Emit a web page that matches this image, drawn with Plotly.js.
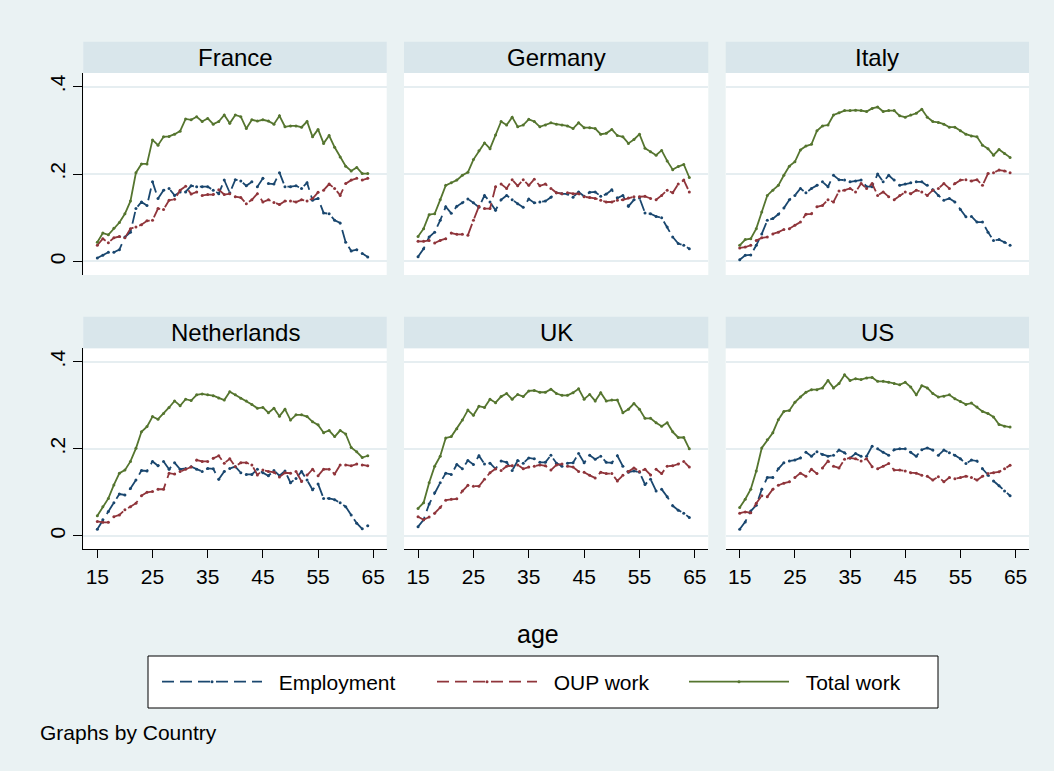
<!DOCTYPE html>
<html>
<head>
<meta charset="utf-8">
<script src="https://cdn.plot.ly/plotly-3.0.1.min.js"></script>
<style>
  html, body { margin: 0; padding: 0; background: #EAF2F3; }
  #chart { width: 1054px; height: 771px; }
</style>
</head>
<body>
<div id="chart"></div>
<script>
// Share of time spent working by age, by country
const ages = [15,16,17,18,19,20,21,22,23,24,25,26,27,28,29,30,31,32,33,34,35,36,37,38,39,
              40,41,42,43,44,45,46,47,48,49,50,51,52,53,54,55,56,57,58,59,60,61,62,63,64];

const countries = ["France", "Germany", "Italy", "Netherlands", "UK", "US"];
const seriesNames = ["Employment", "OUP work", "Total work"];
const yTickVals = [0, 0.2, 0.4];
const yTickText = ["0", ".2", ".4"];
const xTickVals = [15, 25, 35, 45, 55, 65];

const franceEmployment = [0.008,0.014,0.021,0.021,0.027,0.056,0.067,0.121,0.136,0.128,
  0.182,0.144,0.163,0.167,0.151,0.159,0.159,0.173,0.171,0.171,
  0.171,0.163,0.155,0.186,0.157,0.187,0.184,0.173,0.182,0.171,
  0.190,0.178,0.177,0.203,0.171,0.171,0.173,0.167,0.180,0.140,
  0.144,0.111,0.109,0.094,0.088,0.044,0.024,0.027,0.018,0.010];
const franceOup = [0.037,0.052,0.043,0.054,0.057,0.054,0.075,0.079,0.084,0.093,
  0.094,0.121,0.119,0.140,0.142,0.163,0.172,0.154,0.159,0.151,
  0.153,0.153,0.164,0.153,0.155,0.148,0.146,0.132,0.141,0.155,
  0.136,0.141,0.135,0.130,0.138,0.138,0.136,0.141,0.138,0.144,
  0.158,0.163,0.177,0.167,0.151,0.178,0.186,0.190,0.186,0.190];
const franceTotal = [0.044,0.065,0.061,0.076,0.089,0.109,0.138,0.203,0.223,0.223,
  0.278,0.266,0.285,0.286,0.291,0.298,0.326,0.324,0.331,0.320,
  0.327,0.314,0.320,0.335,0.316,0.335,0.331,0.304,0.324,0.321,
  0.324,0.321,0.314,0.333,0.308,0.310,0.310,0.307,0.320,0.285,
  0.302,0.270,0.288,0.261,0.239,0.218,0.207,0.215,0.201,0.201];

const germanyEmployment = [0.011,0.029,0.056,0.067,0.094,0.125,0.110,0.126,0.134,0.143,
  0.134,0.124,0.151,0.136,0.117,0.141,0.151,0.141,0.132,0.124,
  0.143,0.134,0.136,0.138,0.147,0.157,0.155,0.154,0.147,0.159,
  0.149,0.158,0.159,0.149,0.154,0.164,0.145,0.151,0.126,0.141,
  0.145,0.111,0.109,0.103,0.100,0.079,0.056,0.041,0.037,0.029];
const germanyOup = [0.046,0.046,0.048,0.042,0.048,0.052,0.065,0.062,0.062,0.060,
  0.094,0.126,0.121,0.121,0.171,0.177,0.167,0.187,0.173,0.187,
  0.174,0.188,0.173,0.177,0.167,0.157,0.155,0.157,0.155,0.155,
  0.148,0.146,0.144,0.140,0.136,0.136,0.140,0.141,0.145,0.148,
  0.148,0.149,0.144,0.141,0.151,0.163,0.157,0.177,0.186,0.159];
const germanyTotal = [0.057,0.075,0.107,0.109,0.141,0.174,0.180,0.186,0.197,0.204,
  0.233,0.253,0.271,0.258,0.289,0.320,0.312,0.330,0.308,0.312,
  0.325,0.320,0.308,0.312,0.317,0.314,0.312,0.310,0.304,0.317,
  0.306,0.306,0.304,0.291,0.293,0.302,0.288,0.285,0.270,0.279,
  0.291,0.259,0.251,0.243,0.254,0.230,0.210,0.217,0.222,0.192];

const italyEmployment = [0.004,0.014,0.015,0.037,0.063,0.094,0.098,0.108,0.122,0.141,
  0.151,0.167,0.157,0.167,0.174,0.182,0.171,0.197,0.187,0.186,
  0.182,0.184,0.186,0.171,0.171,0.200,0.182,0.197,0.186,0.174,
  0.177,0.180,0.182,0.182,0.174,0.164,0.151,0.140,0.144,0.136,
  0.119,0.102,0.103,0.090,0.090,0.067,0.048,0.050,0.044,0.037];
const italyOup = [0.031,0.033,0.037,0.048,0.054,0.056,0.063,0.067,0.073,0.075,
  0.083,0.090,0.108,0.109,0.125,0.128,0.141,0.136,0.161,0.163,
  0.167,0.159,0.178,0.167,0.178,0.151,0.159,0.148,0.141,0.151,
  0.159,0.155,0.163,0.159,0.151,0.163,0.167,0.178,0.167,0.178,
  0.186,0.187,0.184,0.187,0.174,0.201,0.203,0.209,0.207,0.203];
const italyTotal = [0.037,0.050,0.052,0.075,0.113,0.151,0.163,0.174,0.197,0.218,
  0.228,0.255,0.264,0.268,0.299,0.310,0.312,0.335,0.340,0.345,
  0.345,0.346,0.345,0.343,0.350,0.353,0.343,0.345,0.345,0.333,
  0.330,0.335,0.339,0.348,0.330,0.320,0.318,0.314,0.307,0.307,
  0.299,0.291,0.287,0.285,0.266,0.258,0.243,0.256,0.247,0.238];

const netherlandsEmployment = [0.015,0.037,0.056,0.076,0.096,0.094,0.109,0.128,0.150,0.149,
  0.171,0.161,0.171,0.153,0.168,0.153,0.155,0.159,0.153,0.148,
  0.155,0.154,0.130,0.148,0.155,0.159,0.145,0.141,0.141,0.153,
  0.145,0.138,0.150,0.138,0.149,0.122,0.132,0.148,0.128,0.106,
  0.119,0.086,0.086,0.083,0.076,0.067,0.048,0.029,0.016,0.023];
const netherlandsOup = [0.033,0.031,0.031,0.044,0.048,0.060,0.067,0.075,0.092,0.100,
  0.102,0.107,0.107,0.144,0.142,0.148,0.153,0.158,0.174,0.171,
  0.171,0.178,0.184,0.167,0.177,0.159,0.168,0.168,0.163,0.140,
  0.151,0.148,0.146,0.135,0.145,0.144,0.148,0.125,0.140,0.153,
  0.138,0.153,0.153,0.142,0.163,0.163,0.161,0.165,0.163,0.161];
const netherlandsTotal = [0.046,0.067,0.086,0.117,0.144,0.151,0.171,0.201,0.239,0.251,
  0.274,0.268,0.281,0.295,0.310,0.299,0.314,0.311,0.324,0.326,
  0.324,0.322,0.317,0.312,0.331,0.324,0.316,0.310,0.302,0.293,
  0.295,0.283,0.293,0.275,0.291,0.266,0.278,0.278,0.274,0.262,
  0.255,0.237,0.242,0.228,0.242,0.234,0.203,0.193,0.180,0.184];

const ukEmployment = [0.021,0.037,0.073,0.099,0.122,0.144,0.141,0.164,0.154,0.173,
  0.164,0.184,0.165,0.167,0.154,0.172,0.169,0.150,0.173,0.167,
  0.179,0.177,0.169,0.169,0.185,0.167,0.160,0.167,0.168,0.189,
  0.168,0.185,0.176,0.183,0.169,0.168,0.184,0.160,0.146,0.149,
  0.146,0.118,0.130,0.103,0.107,0.090,0.069,0.059,0.052,0.042];
const ukOup = [0.044,0.037,0.043,0.052,0.065,0.082,0.084,0.085,0.103,0.116,
  0.114,0.114,0.130,0.145,0.154,0.150,0.160,0.161,0.163,0.154,
  0.158,0.160,0.163,0.161,0.151,0.163,0.165,0.160,0.158,0.148,
  0.146,0.139,0.133,0.146,0.143,0.143,0.126,0.139,0.148,0.156,
  0.148,0.153,0.140,0.153,0.143,0.160,0.161,0.165,0.171,0.158];
const ukTotal = [0.063,0.076,0.122,0.160,0.183,0.225,0.228,0.246,0.266,0.289,
  0.277,0.298,0.295,0.314,0.306,0.320,0.327,0.314,0.325,0.320,
  0.333,0.334,0.330,0.330,0.337,0.327,0.323,0.323,0.329,0.338,
  0.314,0.325,0.310,0.329,0.310,0.312,0.312,0.283,0.291,0.304,
  0.291,0.270,0.270,0.260,0.252,0.260,0.239,0.226,0.226,0.200];

const usEmployment = [0.015,0.032,0.057,0.070,0.107,0.134,0.134,0.154,0.168,0.172,
  0.174,0.179,0.192,0.183,0.193,0.187,0.183,0.185,0.197,0.191,
  0.179,0.189,0.183,0.183,0.206,0.200,0.192,0.185,0.198,0.200,
  0.200,0.192,0.183,0.198,0.202,0.197,0.185,0.197,0.191,0.185,
  0.177,0.166,0.174,0.172,0.154,0.139,0.126,0.115,0.103,0.092];
const usOup = [0.052,0.055,0.053,0.075,0.092,0.090,0.107,0.116,0.121,0.124,
  0.134,0.144,0.137,0.153,0.143,0.156,0.172,0.160,0.156,0.176,
  0.179,0.177,0.172,0.177,0.159,0.154,0.160,0.166,0.151,0.151,
  0.149,0.145,0.144,0.139,0.137,0.128,0.136,0.124,0.134,0.131,
  0.134,0.137,0.134,0.128,0.137,0.143,0.145,0.147,0.154,0.162];
const usTotal = [0.065,0.084,0.107,0.149,0.202,0.221,0.237,0.267,0.286,0.288,
  0.307,0.319,0.330,0.336,0.336,0.340,0.357,0.340,0.350,0.370,
  0.357,0.361,0.359,0.363,0.364,0.355,0.355,0.353,0.350,0.347,
  0.353,0.342,0.324,0.345,0.340,0.327,0.319,0.321,0.324,0.315,
  0.309,0.302,0.305,0.296,0.286,0.281,0.273,0.256,0.252,0.250];

const panelSeries = [
  [franceEmployment, franceOup, franceTotal],
  [germanyEmployment, germanyOup, germanyTotal],
  [italyEmployment, italyOup, italyTotal],
  [netherlandsEmployment, netherlandsOup, netherlandsTotal],
  [ukEmployment, ukOup, ukTotal],
  [usEmployment, usOup, usTotal]
];

// ---- styling and geometry ----
const W = 1054, H = 771;
const FONT = "Arial, 'Liberation Sans', Helvetica, sans-serif";
const BG = "#EAF2F3";
const STRIP = "#D9E6EB";
const GRID = "#E6EEF1";
const lineStyles = [
  { color: "#1a476f", dash: "12px,6px" },
  { color: "#90353b", dash: "12px,6px" },
  { color: "#55752f", dash: "solid" }
];
// column spans (px) and row spans (px) of the white plot regions
const colPx = [[83.3, 386.7], [404, 708.3], [725.7, 1029]];
const rowPx = [[73, 275], [348.3, 549.3]];
const stripPx = [[41.7, 73], [316.7, 348.3]];
const px2x = v => v / W;
const px2y = v => (H - v) / H;

const traces = [];
const layout = {
  width: W, height: H,
  margin: { l: 0, r: 0, t: 0, b: 0 },
  paper_bgcolor: BG,
  plot_bgcolor: "#ffffff",
  font: { family: FONT, color: "#000000", size: 20 },
  shapes: [],
  annotations: [],
  hovermode: false
};

countries.forEach((country, i) => {
  const col = i % 3, row = Math.floor(i / 3);
  const n = i + 1;
  const xa = "x" + (n === 1 ? "" : n), ya = "y" + (n === 1 ? "" : n);
  const xKey = "xaxis" + (n === 1 ? "" : n), yKey = "yaxis" + (n === 1 ? "" : n);

  layout[xKey] = {
    domain: [px2x(colPx[col][0]), px2x(colPx[col][1])],
    anchor: ya,
    range: [12.46, 67.43],
    showgrid: false, zeroline: false,
    tickmode: "array", tickvals: xTickVals,
    showline: row === 1, linecolor: "#000000", linewidth: 1,
    ticks: row === 1 ? "outside" : "", ticklen: 8, tickcolor: "#000000", tickwidth: 1,
    showticklabels: row === 1,
    tickfont: { family: FONT, size: 21, color: "#000000" }
  };
  layout[yKey] = {
    domain: [px2y(rowPx[row][1]), px2y(rowPx[row][0])],
    anchor: xa,
    range: [-0.031, 0.431],
    showgrid: true, gridcolor: GRID, gridwidth: 2,
    zeroline: false,
    tickmode: "array", tickvals: yTickVals, ticktext: yTickText,
    showline: col === 0, linecolor: "#000000", linewidth: 1,
    ticks: col === 0 ? "outside" : "", ticklen: 9, tickcolor: "#000000", tickwidth: 1,
    showticklabels: col === 0, tickangle: -90,
    tickfont: { family: FONT, size: 21, color: "#000000" }
  };

  // strip header with the country name
  layout.shapes.push({
    type: "rect", xref: "paper", yref: "paper", layer: "below",
    x0: px2x(colPx[col][0]), x1: px2x(colPx[col][1]),
    y0: px2y(stripPx[row][1]), y1: px2y(stripPx[row][0]),
    fillcolor: STRIP, line: { width: 0 }
  });
  layout.annotations.push({
    xref: "paper", yref: "paper",
    x: px2x((colPx[col][0] + colPx[col][1]) / 2),
    y: px2y((stripPx[row][0] + stripPx[row][1]) / 2),
    text: country, showarrow: false,
    xanchor: "center", yanchor: "middle",
    font: { family: FONT, size: 24, color: "#000000" }
  });

  panelSeries[i].forEach((vals, k) => {
    traces.push({
      type: "scatter", mode: "lines+markers",
      x: ages, y: vals, xaxis: xa, yaxis: ya,
      name: "\u00a0\u00a0" + seriesNames[k],
      legend: k === 0 ? "legend" : "legend" + (k + 1),
      showlegend: i === 0,
      line: { color: lineStyles[k].color, width: 1.8, dash: lineStyles[k].dash },
      marker: { color: lineStyles[k].color, size: 3 },
      hoverinfo: "skip"
    });
  });
});

// x axis title
layout.annotations.push({
  xref: "paper", yref: "paper", x: px2x(538), y: px2y(634),
  text: "age", showarrow: false, xanchor: "center", yanchor: "middle",
  font: { family: FONT, size: 25, color: "#000000" }
});
// note under the legend
layout.annotations.push({
  xref: "paper", yref: "paper", x: px2x(38), y: px2y(732),
  text: "Graphs by Country", showarrow: false, xanchor: "left", yanchor: "middle",
  font: { family: FONT, size: 21, color: "#000000" }
});

// legend frame
layout.shapes.push({
  type: "rect", xref: "paper", yref: "paper", layer: "below",
  x0: px2x(148), x1: px2x(938), y0: px2y(708), y1: px2y(656),
  fillcolor: "#ffffff", line: { color: "#000000", width: 1 }
});
const legendBase = {
  orientation: "h", yanchor: "middle", xanchor: "left",
  bgcolor: "rgba(0,0,0,0)", borderwidth: 0, itemwidth: 100,
  font: { family: FONT, size: 21, color: "#000000" }
};
layout.legend  = Object.assign({}, legendBase, { x: px2x(157), y: px2y(682) });
layout.legend2 = Object.assign({}, legendBase, { x: px2x(432), y: px2y(682) });
layout.legend3 = Object.assign({}, legendBase, { x: px2x(684), y: px2y(682) });

Plotly.newPlot("chart", traces, layout, { staticPlot: true, displayModeBar: false });
</script>
</body>
</html>
